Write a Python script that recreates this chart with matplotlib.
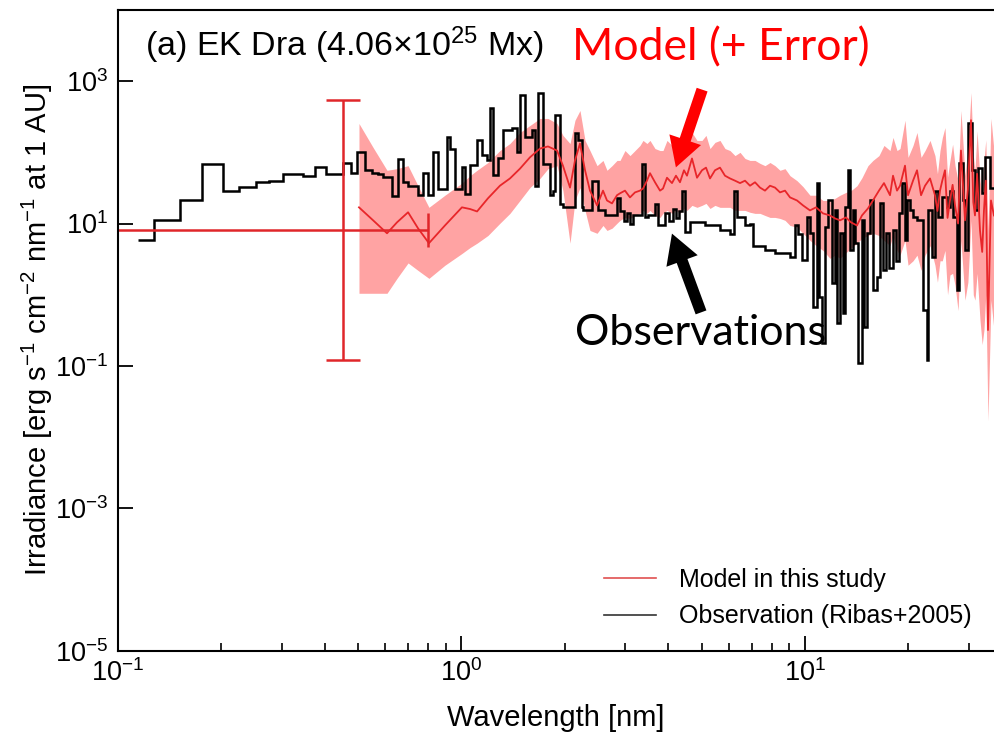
import matplotlib
matplotlib.use("Agg")
import matplotlib.pyplot as plt
from matplotlib.ticker import NullLocator, LogLocator
from matplotlib.patches import FancyArrowPatch

plt.rcParams['font.family'] = ['Liberation Sans', 'DejaVu Sans']
plt.rcParams['mathtext.fontset'] = 'custom'
plt.rcParams['mathtext.rm'] = 'Liberation Sans'
plt.rcParams['mathtext.it'] = 'Liberation Sans:italic'
plt.rcParams['mathtext.bf'] = 'Liberation Sans:bold'

# observation (Ribas+2005), step bins: edges [nm] and irradiance per bin
obs_edges = [0.1146, 0.127, 0.1516, 0.176, 0.2018, 0.2254, 0.252, 0.276, 0.303, 0.346,
             0.3745, 0.403, 0.453, 0.476, 0.4964, 0.5237, 0.5488, 0.5713, 0.5907, 0.6276,
             0.6535, 0.6757, 0.6988, 0.747, 0.7723, 0.7989, 0.826, 0.8542, 0.9074, 0.9259,
             0.9574, 1.003, 1.024, 1.059, 1.110, 1.147, 1.186, 1.211, 1.235, 1.277,
             1.321, 1.403, 1.450, 1.480, 1.530, 1.604, 1.637, 1.670, 1.727, 1.810,
             1.846, 1.871, 1.935, 1.974, 2.140, 2.183, 2.243, 2.258, 2.399, 2.497,
             2.617, 2.836, 2.894, 2.97, 3.03, 3.09, 3.16, 3.354, 3.422, 3.491,
             3.659, 3.733, 3.912, 4.02, 4.13, 4.21, 4.30, 4.385, 4.474, 4.626,
             5.116, 5.656, 6.049, 6.213, 6.339, 6.688, 6.917, 7.057, 7.648, 8.178,
             9.045, 9.352, 9.541, 9.80, 10.11, 10.34, 10.57, 10.81, 11.01, 11.18,
             11.44, 11.69, 11.96, 12.23, 12.42, 12.65, 12.87, 13.07, 13.37, 13.52,
             13.76, 13.98, 14.29, 14.62, 14.85, 15.12, 15.46, 15.81, 16.24, 16.53,
             16.90, 17.21, 17.60, 18.00, 18.40, 18.73, 19.11, 19.55, 19.85, 20.21,
             20.67, 21.14, 22.11, 22.61, 22.86, 23.38, 23.90, 24.44, 25.00, 25.85,
             26.43, 27.03, 27.64, 28.14, 28.77, 29.23, 29.89, 30.57, 31.25, 31.96,
             32.68, 33.42, 34.56, 37.0]
obs_flux = [5.8, 11.4, 21.6, 69, 28.6, 33, 38, 40, 50, 46,
            63, 49, 72, 52, 100, 56, 52, 49, 45, 24,
            80, 38, 34, 25, 52, 25, 100, 31, 162, 113,
            31, 62, 26, 66, 148, 91, 78, 426, 48, 82,
            203, 217, 100, 645, 162, 203, 34, 690, 69, 25,
            29, 330, 19, 17, 184, 147, 17, 15.3, 40, 15.3,
            13, 23, 15, 11, 14, 10, 13, 69, 12.2, 13,
            19, 9.4, 14, 11, 16, 12, 15, 29, 7.5, 10.5,
            9.4, 8.0, 7.2, 29, 12.2, 9.4, 10, 4.9, 4.2, 3.8,
            3.4, 9.4, 7.2, 3.05, 12.2, 7.3, 0.67, 37, 0.92, 0.21,
            8.9, 21.1, 1.45, 15.3, 0.40, 7.3, 0.55, 16.9, 56, 4.2,
            15.3, 5.3, 0.11, 11.1, 0.35, 7.3, 21.1, 1.16, 1.76, 19.2,
            2.2, 7.3, 2.4, 8.0, 3.0, 13.9, 37, 5.8, 21.1, 15.3,
            12.2, 11.1, 0.61, 0.12, 15.3, 3.4, 29, 12.2, 23.3, 16.9,
            29, 12.2, 1.16, 70, 21.1, 4.2, 262, 56, 15.3, 61,
            26.6, 85, 32]

# model in this study: wavelength, central value, upper and lower error envelope
model_wl = [0.503, 0.553, 0.607, 0.649, 0.699, 0.747, 0.804, 0.895, 1.003, 1.059,
            1.110, 1.194, 1.294, 1.384, 1.480, 1.582, 1.692, 1.786, 1.897, 1.974,
            2.070, 2.140, 2.213, 2.289, 2.366, 2.481, 2.582, 2.652, 2.743, 2.836,
            2.894, 2.992, 3.094, 3.200, 3.309, 3.376, 3.467, 3.538, 3.659, 3.784,
            3.860, 3.965, 4.100, 4.211, 4.326, 4.443, 4.534, 4.688, 4.849, 5.013,
            5.150, 5.290, 5.470, 5.656, 5.849, 6.049, 6.256, 6.469, 6.689, 6.917,
            7.153, 7.396, 7.648, 7.909, 8.178, 8.457, 8.746, 9.045, 9.478, 9.866,
            10.34, 10.77, 11.28, 11.82, 12.23, 12.65, 13.16, 13.61, 14.17, 14.65,
            15.25, 15.77, 16.42, 16.98, 17.68, 18.04, 18.53, 18.91, 19.55, 19.95,
            20.63, 21.19, 21.77, 22.36, 23.12, 23.90, 24.3, 24.72, 25.1, 25.56,
            26.0, 26.43, 26.9, 27.34, 27.9, 28.45, 29.23, 29.8, 30.43, 30.9,
            31.25, 31.7, 32.32, 32.8, 33.19, 33.6, 34.10, 34.79, 35.49]
model_flux = [16.9, 11.1, 7.3, 10.4, 14.4, 8.6, 5.3, 9.4, 16.9, 16.0,
              14.8, 22.6, 34, 43, 59, 85, 113, 121, 106, 65,
              32, 77, 133, 56, 29, 18.0, 29, 21.1, 19.2, 25,
              26.6, 29, 23.3, 27.4, 29, 31, 40, 51, 38, 29,
              31, 44, 37, 47, 38, 56, 47, 82, 44, 56,
              61, 43, 56, 61, 47, 43, 40, 37, 40, 34,
              38, 32, 29, 34, 32, 27.4, 29, 23.3, 21.1, 18.0,
              15.3, 16.9, 13.9, 13.0, 11.8, 11.1, 12.2, 10.4, 9.4, 13.0,
              16.3, 21.1, 29, 37, 25, 47, 29, 34, 65, 25,
              40, 56, 25, 34, 43, 25, 15, 29, 40, 56,
              12, 21.1, 35, 18.0, 10, 106, 11.1, 30, 282, 20,
              13.0, 50, 8.0, 4, 15.3, 40, 0.32, 21.1, 13.0]
model_upper = [254, 117, 56, 59, 65, 34, 16.9, 25, 37, 47,
               56, 72, 106, 133, 190, 238, 299, 299, 254, 173,
               133, 282, 387, 147, 106, 65, 77, 56, 65, 77,
               77, 106, 90, 106, 125, 147, 133, 147, 113, 106,
               106, 147, 125, 147, 106, 147, 138, 190, 147, 147,
               173, 113, 138, 147, 113, 106, 90, 100, 82, 77,
               77, 70, 65, 72, 65, 56, 59, 47, 40, 33,
               25, 25, 21.1, 21.1, 22.6, 25, 27.4, 29, 34, 44,
               65, 77, 90, 125, 106, 162, 106, 113, 282, 85,
               125, 190, 85, 106, 147, 90, 50, 106, 160, 223,
               45, 77, 130, 65, 40, 387, 47, 120, 692, 90,
               56, 200, 40, 25, 77, 150, 8.0, 299, 106]
model_lower = [1.05, 1.05, 1.05, 1.7, 2.8, 2.2, 1.7, 2.6, 3.8, 4.6,
               5.3, 6.8, 10.1, 13.9, 21.1, 32, 43, 59, 65, 29,
               5.3, 21.1, 32, 15.3, 8.0, 7.3, 9.4, 8.0, 8.6, 10.1,
               11.1, 12.2, 11.8, 13.0, 13.9, 15.3, 13.9, 15.3, 13.0, 12.2,
               13.9, 15.3, 13.9, 15.3, 13.9, 16.3, 15.3, 18.0, 16.9, 18.0,
               19.2, 16.3, 18.0, 16.9, 16.9, 16.9, 15.3, 15.3, 15.3, 14.4,
               13.9, 13.9, 13.0, 12.2, 12.2, 11.8, 11.1, 9.4, 8.9, 7.3,
               5.8, 4.9, 4.2, 3.25, 3.6, 3.25, 3.9, 4.5, 5.3, 6.2,
               6.8, 7.3, 6.8, 5.8, 4.9, 6.8, 4.2, 3.6, 5.8, 2.6,
               3.0, 3.6, 2.2, 3.6, 4.9, 2.6, 1.5, 3.0, 3.0, 4.2,
               1.0, 1.9, 2.0, 1.36, 0.6, 5.8, 0.84, 1.5, 11.1, 1.0,
               0.84, 2.0, 0.44, 0.2, 0.32, 1.0, 0.017, 0.84, 0.32]

# broad-band model point with error bars
band_wl = 0.452
band_flux = 8.0
band_xerr = [[0.402], [0.348]]
band_yerr = [[7.88], [532]]

fig = plt.figure(figsize=(9.94, 7.33), dpi=100)
ax = fig.add_axes([0.1187, 0.112, 0.8813, 0.8745])

ax.fill_between(model_wl, model_lower, model_upper, color='#ff3333', alpha=0.45, lw=0)
ax.plot(model_wl, model_flux, color='#e8262a', lw=1.3, label='Model in this study')
ax.stairs(obs_flux, obs_edges, baseline=None, color='black', lw=1.8,
          label='Observation (Ribas+2005)')
ax.errorbar([band_wl], [band_flux], xerr=band_xerr, yerr=band_yerr, color='#e0262a',
            lw=1.8, capsize=12, capthick=1.8, fmt='none')

ax.set_xscale('log')
ax.set_yscale('log')
ax.set_xlim(0.1, 35.5)
ax.set_ylim(1e-5, 1e4)
ax.set_yticks([1e-5, 1e-3, 1e-1, 1e1, 1e3])
ax.yaxis.set_minor_locator(NullLocator())
ax.xaxis.set_major_locator(LogLocator(base=10))
ax.xaxis.set_minor_locator(LogLocator(base=10, subs=range(2, 10)))

ax.tick_params(which='both', direction='in', labelsize=19.5, top=False, right=False)
ax.tick_params(which='major', length=11, width=1.3)
ax.tick_params(which='minor', length=5.5, width=1.2)
ax.tick_params(axis='x', pad=6)
ax.tick_params(axis='y', pad=7)
for s in ['left', 'bottom', 'top']:
    ax.spines[s].set_linewidth(1.5)
ax.spines['right'].set_visible(False)

ax.set_xlabel('Wavelength [nm]', fontsize=21, labelpad=12)
ax.set_ylabel('Irradiance [erg s$^{-1}$ cm$^{-2}$ nm$^{-1}$ at 1 AU]', fontsize=21, labelpad=0)

leg = ax.legend(loc='lower right', bbox_to_anchor=(1.0, 0.0), frameon=False,
                fontsize=18, handlelength=2.1, handletextpad=0.9, labelspacing=0.5)
leg.get_lines()[0].set_color('#e05050')
leg.get_lines()[0].set_linewidth(1.2)
leg.get_lines()[1].set_color('#333333')
leg.get_lines()[1].set_linewidth(1.2)

fig.text(145 / 994, 1 - 45 / 733, '(a) EK Dra (4.06$\\times$10$^{25}$ Mx)', fontsize=24.5,
         va='center', ha='left')

# callouts
fig.text(572 / 994, 1 - 48 / 733, 'Model (+ Error)', color='#ff0000', fontsize=32,
         family='Lato', va='center', ha='left')
fig.text(575 / 994, 1 - 333 / 733, 'Observations', color='black', fontsize=31,
         family='Lato', va='center', ha='left')

style = 'simple,head_length=1.4,head_width=1.6,tail_width=0.55'
red_arrow = FancyArrowPatch((703 / 994, 1 - 87 / 733), (675 / 994, 1 - 170 / 733),
                            transform=fig.transFigure, arrowstyle=style,
                            mutation_scale=15, color='#ff0000', lw=0)
blk_arrow = FancyArrowPatch((702 / 994, 1 - 315 / 733), (671 / 994, 1 - 231 / 733),
                            transform=fig.transFigure, arrowstyle=style,
                            mutation_scale=15, color='black', lw=0)
fig.patches.extend([red_arrow, blk_arrow])

fig.savefig('out.png', dpi=100)
